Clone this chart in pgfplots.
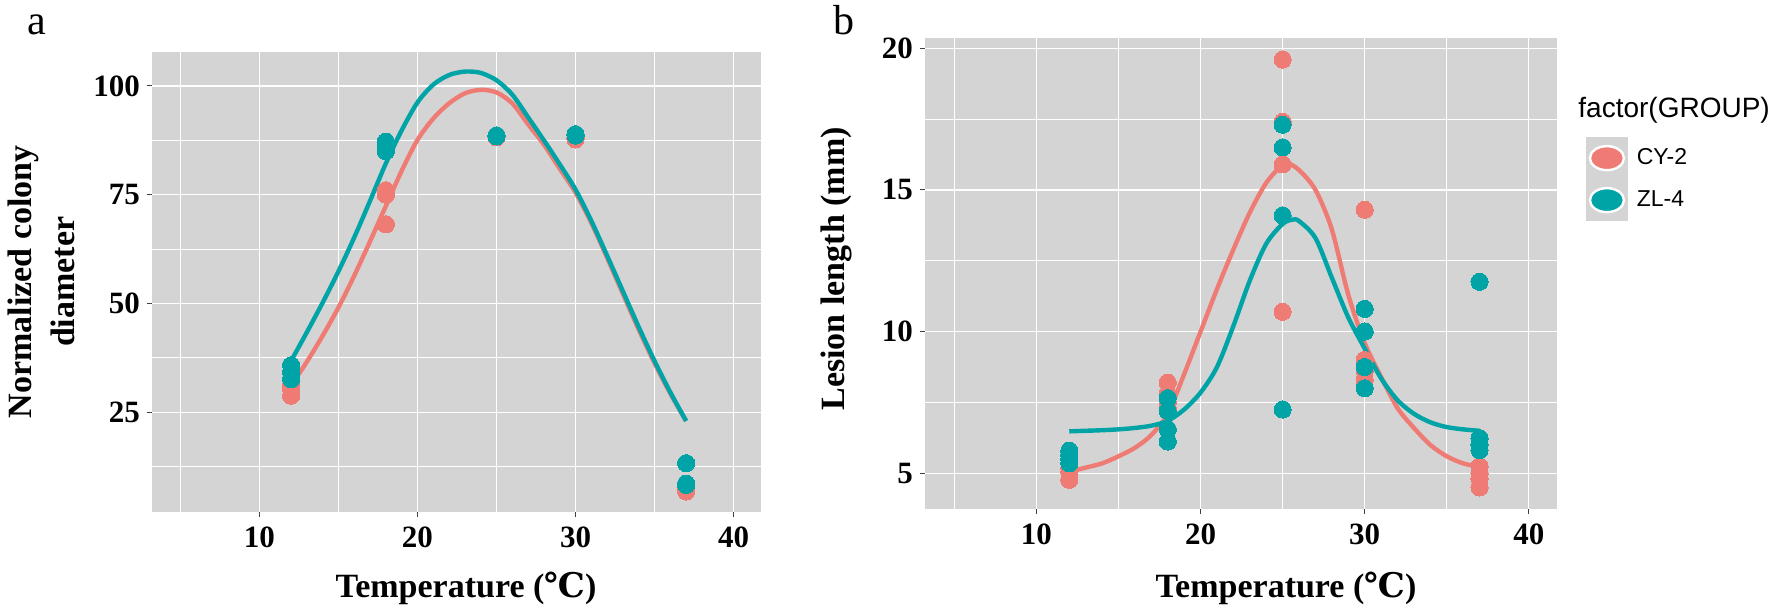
\documentclass[border=0pt]{standalone}
\usepackage{fontspec}
\setmainfont{Liberation Serif}
\newfontfamily\legfont{Liberation Sans}
\newfontfamily\symfont{DejaVu Serif}
\usepackage{pgfplots}
\pgfplotsset{compat=1.18}
\definecolor{bggray}{HTML}{D4D4D4}
\definecolor{salmon}{HTML}{EF7C74}
\definecolor{ggteal}{HTML}{00A4A6}
\pgfplotsset{
  ggbase/.style={
    scale only axis,
    axis background/.style={fill=bggray},
    axis line style={draw=none},
    tick pos=left,
    tick align=outside,
    major tick length=2.5pt,
    minor tick length=0pt,
    tick style={draw=black!75, line width=0.5pt},
    grid=both,
    major grid style={draw=white, line width=0.65pt},
    minor grid style={draw=white, line width=0.5pt},
    xtick={10,20,30,40},
    minor xtick={5,15,25,35},
    /pgf/number format/assume math mode=true,
    ticklabel style={font=\bfseries\fontsize{15.5}{15.5}\selectfont, text=black},
    xticklabel shift=1.5pt,
    label style={font=\bfseries\fontsize{17}{21.5}\selectfont},
    xlabel={Temperature ({\symfont\fontsize{17}{17}\selectfont\bfseries ℃})},
  },
  ptsA/.style={only marks, color=salmon, mark=*, mark size=4.3pt, mark options={draw=salmon, fill=salmon, line width=0pt}},
  ptsB/.style={only marks, color=ggteal, mark=*, mark size=4.3pt, mark options={draw=ggteal, fill=ggteal, line width=0pt}},
  lnA/.style={salmon, line width=2.2pt, smooth, no marks, forget plot},
  lnB/.style={ggteal, line width=2.2pt, smooth, no marks, forget plot},
}
\begin{document}
\begin{tikzpicture}[x=1pt,y=1pt]
\path[use as bounding box] (0,0) rectangle (888,304.5);
\node[anchor=base west, inner sep=0pt, font=\fontsize{21}{21}\selectfont] at (13.3,287) {a};
\node[anchor=base west, inner sep=0pt, font=\fontsize{21}{21}\selectfont] at (416.5,287) {b};
\node[anchor=west, inner sep=0pt, font=\legfont\fontsize{14}{14}\selectfont] at (789,249.5) {factor(GROUP)};

% ---------------- panel a ----------------
\begin{axis}[ggbase,
  at={(76pt,48.65pt)}, anchor=south west,
  width=304.35pt, height=229.85pt,
  xmin=3.2, xmax=41.72, ymin=2.15, ymax=107.8,
  ytick={25,50,75,100}, minor ytick={12.5,37.5,62.5,87.5},
  ylabel={Normalized colony\\diameter},
  ylabel style={at={(axis description cs:-0.1815,0.5)}, anchor=center, align=center},
  xlabel style={at={(axis description cs:0.516,-0.166)}, anchor=center},
]
\addplot[ptsA] coordinates {(12,28.8) (12,30.3) (12,31.3) (18,68.2) (18,75) (18,76) (25,88.2) (25,88.4) (25,88.6) (30,87.7) (30,87.9) (30,88.1) (37,6.8) (37,7.2) (37,7.6)};
\addplot[ptsB] coordinates {(12,32.6) (12,34.3) (12,35.8) (18,85) (18,86) (18,87.2) (25,88.4) (25,88.5) (25,88.6) (30,88.6) (30,88.7) (30,88.9) (37,8.3) (37,8.6) (37,13.3)};
\addplot[lnA] coordinates {(12,31.2) (13,36.6) (14,42.6) (15,49.1) (16,56.4) (17,64.3) (18,72.4) (19,80.5) (20,87.6) (21,92.5) (22,96) (23,98.3) (24,99.1) (25,98.5) (26,96) (27,91.2) (28,86.5) (29,81) (30,75.5) (31,68.5) (32,60.5) (33,52.2) (34,44) (35,36.3) (36,29.3) (37,23)};
\addplot[lnB] coordinates {(12,36.8) (13,43.4) (14,50.2) (15,57.4) (16,65.2) (17,73.6) (18,82.2) (19,89.8) (20,96.2) (21,100.3) (22,102.5) (23,103.3) (24,103) (25,101.3) (26,98) (27,92.8) (28,87.5) (29,82) (30,76.2) (31,69) (32,61) (33,52.8) (34,44.6) (35,36.8) (36,29.6) (37,23)};
\end{axis}

% ---------------- panel b ----------------
\begin{axis}[ggbase,
  at={(462.5pt,50pt)}, anchor=south west,
  width=315.85pt, height=235.35pt,
  xmin=3.21, xmax=41.7, ymin=3.74, ymax=20.35,
  ytick={5,10,15,20}, minor ytick={7.5,12.5,17.5},
  ylabel={Lesion length (mm)},
  ylabel style={at={(axis description cs:-0.1409,0.51)}, anchor=center},
  xlabel style={at={(axis description cs:0.5715,-0.168)}, anchor=center},
  legend style={at={(rel axis cs:1.0464,0.79)}, anchor=north west, draw=none, fill=none,
    inner sep=0pt, outer sep=0pt, row sep=0pt, column sep=2.5pt,
    font=\legfont\fontsize{11.5}{11.5}\selectfont},
  legend cell align=left,
]
\addplot[ptsA, legend image code/.code={
    \fill[bggray] (0pt,-10.3pt) rectangle (20.5pt,10.3pt);
    \draw[white, line width=1.2pt, fill=salmon] (10.25pt,0pt) ellipse [x radius=8.5pt, y radius=6pt];}]
  coordinates {(12,4.77) (12,5.05) (12,5.2) (12,5.35) (18,8.2) (18,7.8) (18,7.5) (18,7.3) (25,19.6) (25,17.4) (25,15.9) (25,10.7) (30,14.3) (30,9.0) (30,8.6) (30,8.3) (37,5.25) (37,5.0) (37,4.8) (37,4.5)};
\addlegendentry{CY-2}
\addplot[ptsB, legend image code/.code={
    \fill[bggray] (0pt,-10.3pt) rectangle (20.5pt,10.3pt);
    \draw[white, line width=1.2pt, fill=ggteal] (10.25pt,0pt) ellipse [x radius=8.5pt, y radius=6pt];}]
  coordinates {(12,5.35) (12,5.5) (12,5.65) (12,5.8) (18,7.65) (18,7.2) (18,6.55) (18,6.12) (25,17.3) (25,16.5) (25,14.1) (25,7.25) (30,10.8) (30,10.0) (30,8.75) (30,8.0) (37,11.76) (37,6.24) (37,6.0) (37,5.82)};
\addlegendentry{ZL-4}
\addplot[lnA] coordinates {(12,5.05) (13,5.2) (14,5.35) (15,5.6) (16,5.9) (17,6.35) (18,7.1) (19,8.5) (20,10.0) (21,11.5) (22,12.9) (23,14.2) (24,15.25) (25,15.9) (25.3,15.95) (26,15.7) (27,15.0) (28,13.6) (29,11.3) (30,9.6) (31,8.4) (32,7.3) (33,6.6) (34,6.0) (35,5.6) (36,5.35) (37,5.22)};
\addplot[lnB] coordinates {(12,6.48) (13,6.5) (14,6.52) (15,6.55) (16,6.6) (17,6.68) (18,6.85) (19,7.25) (20,7.85) (21,8.75) (22,10.2) (23,11.8) (24,13.1) (25,13.8) (25.6,13.95) (26,13.9) (27,13.3) (28,11.9) (29,10.5) (30,9.4) (31,8.35) (32,7.58) (33,7.1) (34,6.8) (35,6.63) (36,6.55) (37,6.5)};
\end{axis}
\end{tikzpicture}
\end{document}
